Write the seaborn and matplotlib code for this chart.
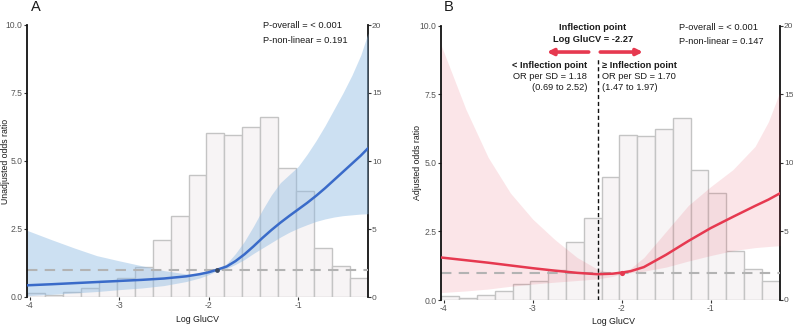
import numpy as np
import pandas as pd
import matplotlib
matplotlib.use("Agg")
import matplotlib.pyplot as plt
import seaborn as sns

# ---------------- data ----------------
hist_edges = [-4.025 + 0.2 * k for k in range(20)]
hist_counts = [0.29, 0.12, 0.37, 0.64, 1.18, 1.4, 2.18, 4.2, 5.97, 8.99,
               12.06, 11.93, 12.5, 13.25, 9.5, 7.77, 3.6, 2.25, 1.4]

xA = [-4.03, -3.75, -3.5, -3.25, -3.0, -2.75, -2.5, -2.25, -2.1, -2.0, -1.91,
      -1.8, -1.7, -1.6, -1.5, -1.4, -1.3, -1.2, -1.1, -1.0, -0.9, -0.8, -0.7,
      -0.6, -0.5, -0.4, -0.3, -0.22]
orA = [0.43, 0.47, 0.51, 0.55, 0.59, 0.63, 0.68, 0.76, 0.84, 0.91, 1.0,
       1.12, 1.32, 1.57, 1.86, 2.17, 2.46, 2.73, 2.98, 3.22, 3.46, 3.72, 4.0,
       4.3, 4.6, 4.9, 5.2, 5.47]
upA = [2.45, 2.1, 1.8, 1.52, 1.33, 1.15, 0.97, 0.85, 0.86, 0.93, 1.02,
       1.22, 1.6, 2.05, 2.6, 3.2, 3.75, 4.2, 4.5, 4.8, 5.25, 5.75, 6.3,
       6.9, 7.5, 8.15, 8.9, 9.7]
loA = [0.05, 0.1, 0.15, 0.2, 0.27, 0.33, 0.42, 0.57, 0.7, 0.82, 0.96,
       1.05, 1.2, 1.38, 1.6, 1.8, 2.0, 2.2, 2.38, 2.53, 2.66, 2.78, 2.87,
       2.94, 2.99, 3.02, 3.05, 3.06]

xB = [-4.03, -3.75, -3.5, -3.25, -3.0, -2.75, -2.5, -2.27, -2.1, -2.0, -1.9,
      -1.75, -1.5, -1.25, -1.0, -0.75, -0.5, -0.35, -0.22]
orB = [1.55, 1.45, 1.36, 1.26, 1.16, 1.07, 0.99, 0.94, 0.96, 1.0, 1.05,
       1.2, 1.65, 2.15, 2.62, 3.03, 3.43, 3.66, 3.89]
upB = [9.3, 6.95, 5.2, 3.9, 2.95, 2.2, 1.55, 1.12, 0.98, 1.03, 1.15,
       1.55, 2.5, 3.45, 4.13, 4.75, 5.6, 6.5, 7.6]
loB = [0.27, 0.33, 0.4, 0.5, 0.58, 0.65, 0.71, 0.77, 0.86, 0.96, 0.99,
       1.05, 1.2, 1.42, 1.62, 1.8, 1.91, 1.95, 1.98]

refA = (-1.91, 1.0)
refB = (-2.0, 1.0)
inflection = -2.27

xticks = [-4, -3, -2, -1]
yticks_left = [0, 2.5, 5, 7.5, 10]
yticks_right = [0, 5, 10, 15, 20]

# ---------------- style ----------------
sns.set_style("white")
plt.rcParams["font.family"] = ["Liberation Sans", "DejaVu Sans"]

W, H = 793, 327
fig = plt.figure(figsize=(W / 100, H / 100), dpi=100)

BLUE = "#3a6bc9"
RED = "#e63950"
BAR_FC = "#f7f4f5"
BAR_EC = "#c4c4c4"
TICK_C = "#555555"


def px_ax(l, t, r, b):
    return [l / W, 1 - b / H, (r - l) / W, (b - t) / H]


def ftext(x, y, s, size=6.7, **kw):
    fig.text(x / W, 1 - y / H, s, va="center", fontsize=size, color="#1a1a1a", **kw)


def panel(rect, x, y, lo, up, line_color, band_color, band_alpha):
    ax = fig.add_axes(rect)
    ax2 = ax.twinx()
    ax.set_zorder(ax2.get_zorder() + 1)
    ax.patch.set_visible(False)

    centers = [(hist_edges[i] + hist_edges[i + 1]) / 2 for i in range(len(hist_counts))]
    hdf = pd.DataFrame({"x": centers, "w": hist_counts})
    sns.histplot(data=hdf, x="x", weights="w", bins=hist_edges, ax=ax2,
                 color=BAR_FC, edgecolor=BAR_EC, linewidth=1.0, alpha=1)
    ax2.set_ylim(0, 20)
    ax2.set_ylabel("")

    ax.fill_between(x, lo, up, color=band_color, alpha=band_alpha, lw=0, zorder=1)
    ax.axhline(1.0, color="#b3b3b3", lw=1.5, ls=(0, (5, 3.5)), zorder=2)
    df = pd.DataFrame({"x": x, "y": y})
    sns.lineplot(data=df, x="x", y="y", ax=ax, color=line_color, lw=1.8, zorder=3)
    ax.set_xlim(-4.03, -0.22)
    ax.set_ylim(0, 10)
    ax2.set_xlim(-4.03, -0.22)

    ax.set_xticks(xticks)
    ax.set_xticklabels([str(t) for t in xticks])
    ax.set_yticks(yticks_left)
    ax.set_yticklabels(["0.0", "2.5", "5.0", "7.5", "10.0"])
    ax2.set_yticks(yticks_right)
    ax2.set_yticklabels([str(t) for t in yticks_right])

    for a in (ax, ax2):
        for s in ("top", "bottom"):
            a.spines[s].set_visible(False)
        a.tick_params(axis="both", labelsize=6.2, labelcolor=TICK_C, length=2.2,
                      width=0.8, color="#333333", pad=1.0)
    ax2.tick_params(axis="y", labelsize=6.0, pad=0.8, length=2.0)
    ax.spines["left"].set_visible(True)
    ax.spines["left"].set_linewidth(1.3)
    ax.spines["left"].set_color("#111111")
    ax.spines["right"].set_visible(False)
    ax2.spines["left"].set_visible(False)
    ax2.spines["right"].set_visible(True)
    ax2.spines["right"].set_linewidth(1.3)
    ax2.spines["right"].set_color("#111111")
    ax.tick_params(axis="x", bottom=True)
    ax.set_xlabel("")
    ax.set_ylabel("")
    return ax, ax2


axA, axA2 = panel(px_ax(27, 25, 368, 297), xA, orA, loA, upA, BLUE, "#8fbbe3", 0.45)
axA.scatter([refA[0]], [refA[1]], s=12, color="#3b4a63", zorder=4, lw=0)

axB, axB2 = panel(px_ax(441, 25.7, 780, 300), xB, orB, loB, upB, RED, RED, 0.13)
axB.scatter([refB[0]], [refB[1]], s=14, color=RED, zorder=4, lw=0)
axB.axvline(inflection, ymin=0, ymax=0.882, color="#111111", lw=1.0,
            ls=(0, (3, 2)), zorder=3)

# arrows
axB.annotate("", xy=(-2.84, 9.04), xytext=(-2.37, 9.04),
             arrowprops=dict(arrowstyle="-|>", color=RED, lw=2.6,
                             mutation_scale=9, shrinkA=0, shrinkB=0))
axB.annotate("", xy=(-1.76, 9.04), xytext=(-2.24, 9.04),
             arrowprops=dict(arrowstyle="-|>", color=RED, lw=2.6,
                             mutation_scale=9, shrinkA=0, shrinkB=0))

# axis labels
ftext(198, 320, "Log GluCV", size=6.3, ha="center")
ftext(613, 321, "Log GluCV", size=6.3, ha="center")
ftext(5.5, 161, "Unadjusted odds ratio", size=6.3, ha="center", rotation=90)
ftext(418, 162, "Adjusted odds ratio", size=6.3, ha="center", rotation=90)

ftext(31, 7, "A", size=10.5, ha="left")
ftext(444, 7, "B", size=10.5, ha="left")

ftext(263, 25.7, "P-overall = < 0.001", ha="left")
ftext(263, 40.3, "P-non-linear = 0.191", ha="left")
ftext(679, 27, "P-overall = < 0.001", ha="left")
ftext(679, 42, "P-non-linear = 0.147", ha="left")

ftext(593, 28, "Inflection point", ha="center", fontweight="bold")
ftext(593, 39.5, "Log GluCV = -2.27", ha="center", fontweight="bold")
ftext(587, 65, "< Inflection point", ha="right", fontweight="bold")
ftext(587, 76.5, "OR per SD = 1.18", ha="right")
ftext(587, 88, "(0.69 to 2.52)", ha="right")
ftext(602, 65, "\u2265 Inflection point", ha="left", fontweight="bold")
ftext(602, 76.5, "OR per SD = 1.70", ha="left")
ftext(602, 88, "(1.47 to 1.97)", ha="left")

fig.savefig("out.png", dpi=100)
